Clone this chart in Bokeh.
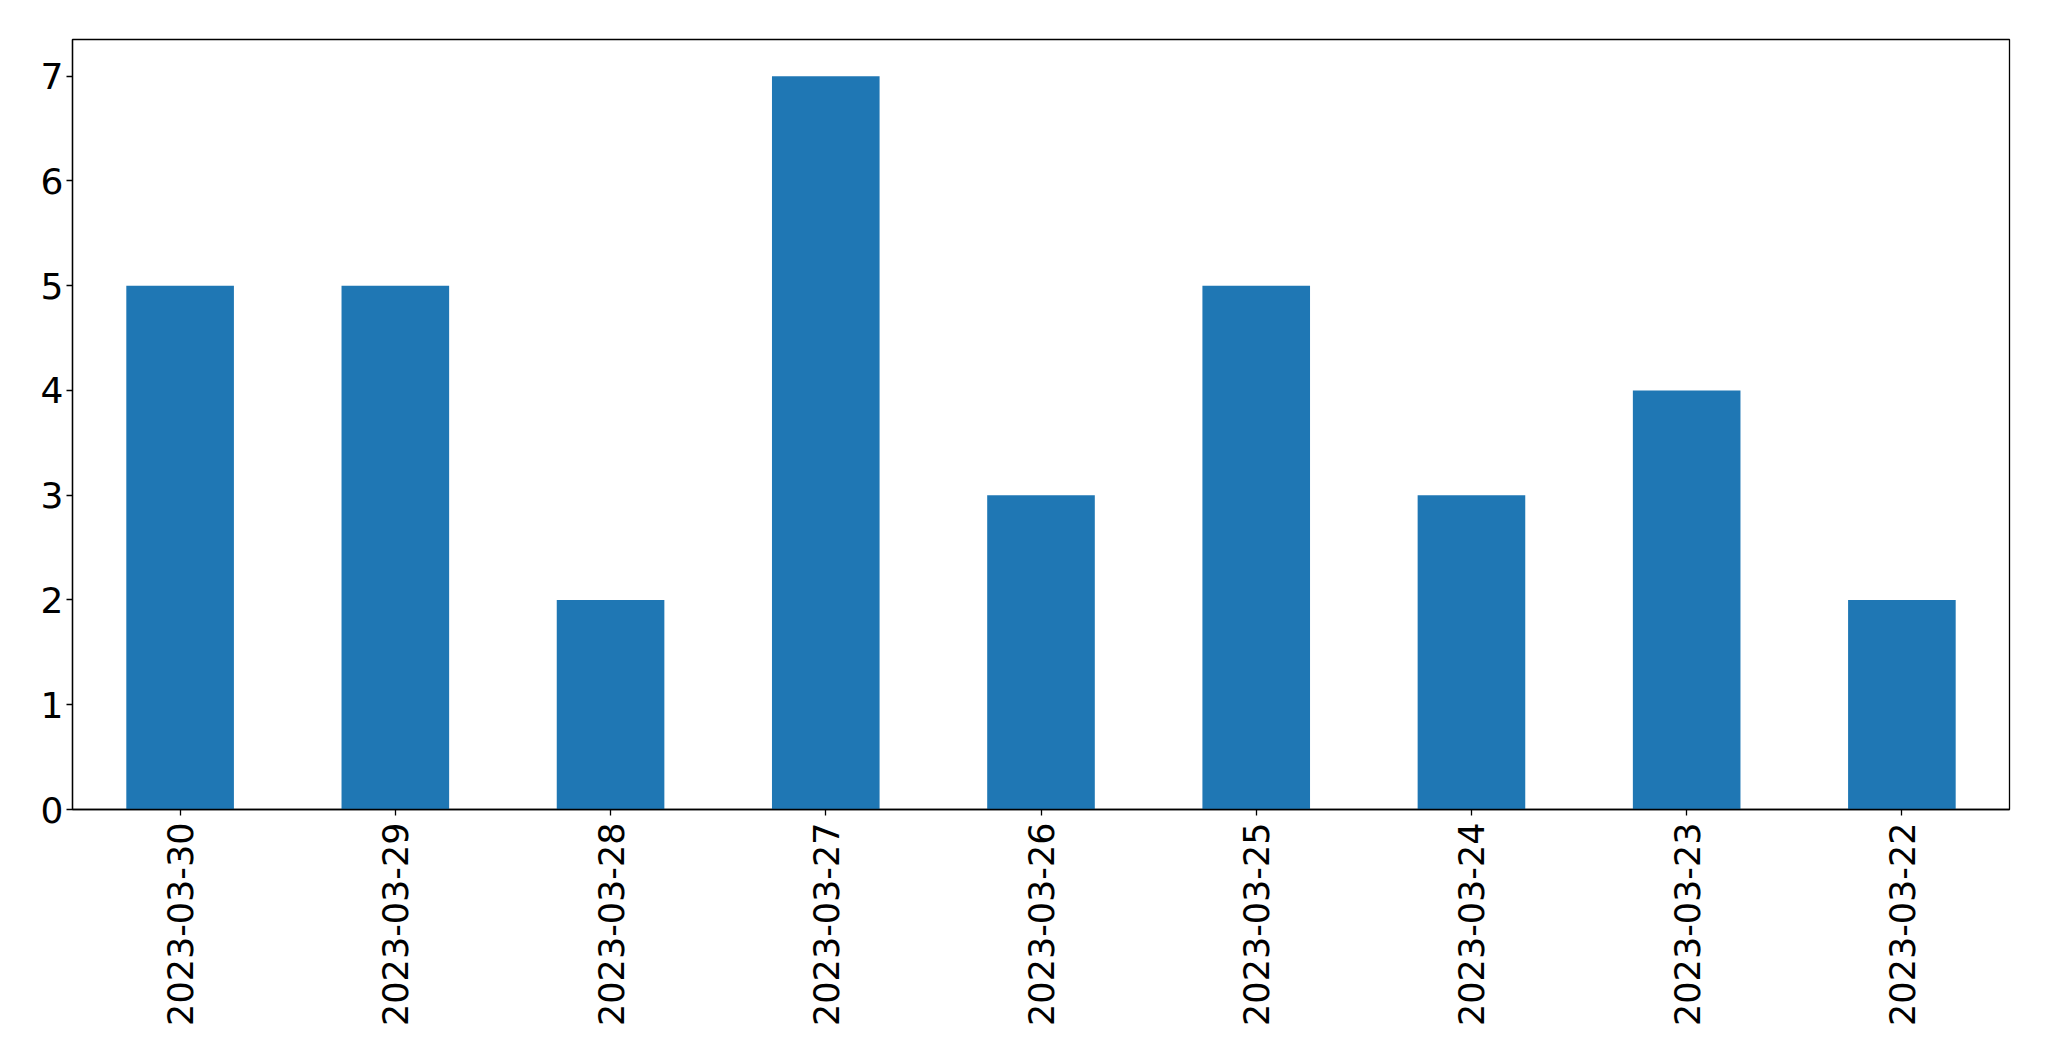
import math
from bokeh.plotting import figure
from bokeh.models import FactorRange, Range1d, FixedTicker, ColumnDataSource
from bokeh.embed import file_html
from bokeh.resources import INLINE

dates = ["2023-03-30", "2023-03-29", "2023-03-28", "2023-03-27", "2023-03-26",
         "2023-03-25", "2023-03-24", "2023-03-23", "2023-03-22"]
counts = [5, 5, 2, 7, 3, 5, 3, 4, 2]
y_ticks = [0, 1, 2, 3, 4, 5, 6, 7]

src = ColumnDataSource(dict(date=dates, count=counts))

p = figure(
    x_range=FactorRange(*dates),
    y_range=Range1d(0, 7.35),
    width=2041, height=1049,
    output_backend="svg", toolbar_location=None,
    min_border_left=72, min_border_top=39, min_border_right=32, min_border_bottom=240,
)
p.vbar(x="date", top="count", width=0.5, source=src, color="#1f77b4", line_color=None)

p.xgrid.visible = False
p.ygrid.visible = False
p.outline_line_color = "black"
p.outline_line_width = 1.3
p.outline_line_alpha = 1.0
p.background_fill_color = "white"
p.border_fill_color = "white"

for ax in (p.xaxis[0], p.yaxis[0]):
    ax.axis_line_color = "black"
    ax.axis_line_width = 1.3
    ax.major_tick_line_color = "black"
    ax.major_tick_line_width = 1.3
    ax.major_tick_out = 6
    ax.major_tick_in = 0
    ax.minor_tick_line_color = None
    ax.major_label_text_font = "DejaVu Sans"
    ax.major_label_text_font_size = "35px"
    ax.major_label_text_color = "black"

p.yaxis[0].ticker = FixedTicker(ticks=y_ticks)
p.yaxis[0].major_label_text_font_size = "36px"
p.yaxis[0].major_label_standoff = 3
p.xaxis[0].major_label_orientation = math.pi / 2
p.xaxis[0].major_label_standoff = 7

open("out.html", "w").write(file_html(p, INLINE))
